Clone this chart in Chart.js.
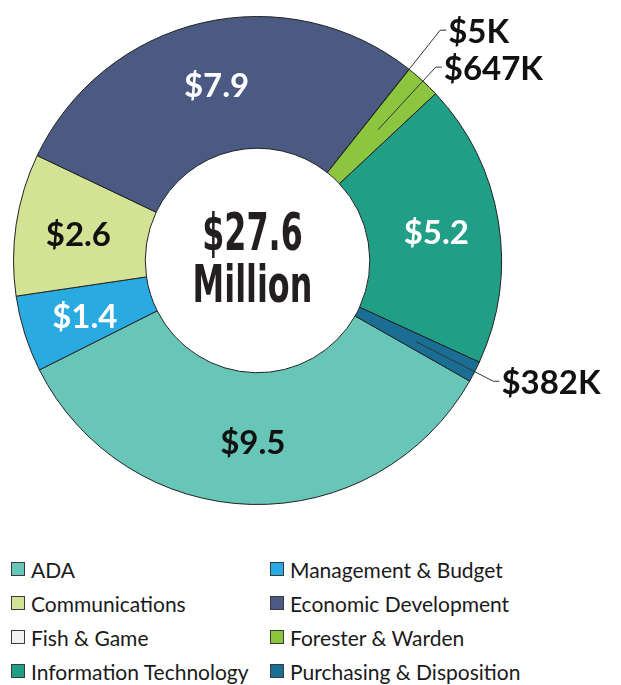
<!DOCTYPE html>
<html>
<head>
<meta charset="utf-8">
<script src="https://cdn.jsdelivr.net/npm/chart.js@4/dist/chart.umd.min.js"></script>
<style>
  html, body { margin: 0; padding: 0; background: #fff; }
  #wrap { position: relative; width: 621px; height: 685px; overflow: hidden; }
  #c { position: absolute; left: 0; top: 0; }
  #legend { position: absolute; left: 0; top: 552px; width: 621px; }
  .item { position: absolute; height: 34px; display: flex; align-items: center;
          font-family: Lato, "Open Sans", sans-serif; font-size: 21px; color: #1a1a1a; white-space: nowrap; }
  .box { width: 12px; height: 12px; border: 1px solid #3a3a3a; margin-right: 6px; box-sizing: content-box; }
</style>
</head>
<body>
<div id="wrap">
  <canvas id="c" width="621" height="530"></canvas>
  <div id="legend"></div>
</div>
<script>
// ---- data ----
const categories = ['ADA', 'Management & Budget', 'Communications', 'Economic Development',
                    'Fish & Game', 'Forester & Warden', 'Information Technology', 'Purchasing & Disposition'];
const values = [9.5, 1.4, 2.6, 7.9, 0.005, 0.647, 5.2, 0.382];   // $ millions
const valueLabels = ['$9.5', '$1.4', '$2.6', '$7.9', '$5K', '$647K', '$5.2', '$382K'];
const totalLabel = ['$27.6', 'Million'];

// ---- styles ----
const colors = ['#67C6B8', '#29ABE2', '#D3E294', '#4A5A82', '#F2F2F2', '#8CC540', '#219E86', '#1A6E93'];
const labelColors = ['#111', '#fff', '#111', '#fff', '#111', '#111', '#fff', '#111'];
// callouts for small slices: start radius ('outer' or 'mid'), elbow radius offset beyond outer edge
const callouts = { 4: { from: 'outer', elbow: 50 }, 5: { from: 'mid', elbow: 19 }, 7: { from: 'mid', elbow: 21 } };

const labelPlugin = {
  id: 'sliceLabels',
  afterDatasetsDraw(chart) {
    const ctx = chart.ctx;
    const meta = chart.getDatasetMeta(0);
    ctx.save();
    meta.data.forEach((arc, i) => {
      const p = arc.getProps(['x', 'y', 'startAngle', 'endAngle', 'innerRadius', 'outerRadius'], true);
      const mid = (p.startAngle + p.endAngle) / 2;
      const rMid = (p.innerRadius + p.outerRadius) / 2 + 3;
      ctx.font = 'bold 33px Lato, "Open Sans", sans-serif';
      ctx.textBaseline = 'middle';
      const co = callouts[i];
      if (co) {
        const r0 = co.from === 'outer' ? p.outerRadius : rMid - 3;
        const r1 = p.outerRadius + co.elbow;
        const x0 = p.x + Math.cos(mid) * r0, y0 = p.y + Math.sin(mid) * r0;
        const x1 = p.x + Math.cos(mid) * r1, y1 = p.y + Math.sin(mid) * r1;
        ctx.strokeStyle = '#333';
        ctx.lineWidth = 1;
        ctx.beginPath();
        ctx.moveTo(x0, y0); ctx.lineTo(x1, y1); ctx.lineTo(x1 + 6, y1);
        ctx.stroke();
        ctx.fillStyle = '#111';
        ctx.textAlign = 'left';
        ctx.fillText(valueLabels[i], x1 + 8, y1 + 2);
      } else {
        ctx.fillStyle = labelColors[i];
        ctx.textAlign = 'center';
        ctx.fillText(valueLabels[i], p.x + Math.cos(mid) * rMid, p.y + Math.sin(mid) * rMid + 2);
      }
    });
    // centre total
    const a = meta.data[0];
    ctx.fillStyle = '#231F20';
    ctx.textAlign = 'center';
    ctx.textBaseline = 'middle';
    ctx.save();
    ctx.translate(a.x - 5, a.y);
    ctx.scale(0.68, 1);
    ctx.font = 'bold 52px "Liberation Sans Narrow", "DejaVu Sans Condensed", sans-serif';
    ctx.fillText(totalLabel[0], 0, -24);
    ctx.fillText(totalLabel[1], 0, 28);
    ctx.restore();
    ctx.restore();
  }
};

new Chart(document.getElementById('c'), {
  type: 'doughnut',
  data: {
    labels: categories,
    datasets: [{
      data: values,
      backgroundColor: colors,
      borderColor: '#222',
      borderWidth: 1,
      hoverOffset: 0
    }]
  },
  options: {
    responsive: false,
    devicePixelRatio: 1,
    animation: false,
    rotation: 119.6,
    cutout: '46%',
    layout: { padding: { left: 13, right: 119, top: 16, bottom: 25 } },
    plugins: { legend: { display: false }, tooltip: { enabled: false } },
    events: []
  },
  plugins: [labelPlugin]
});

// ---- legend (two columns, row-major) ----
const legend = document.getElementById('legend');
categories.forEach((name, i) => {
  const el = document.createElement('div');
  el.className = 'item';
  el.style.left = (i % 2 === 0 ? 11 : 270) + 'px';
  el.style.top = (Math.floor(i / 2) * 34) + 'px';
  const box = document.createElement('span');
  box.className = 'box';
  box.style.background = colors[i];
  const t = document.createElement('span');
  t.textContent = name;
  el.appendChild(box); el.appendChild(t);
  legend.appendChild(el);
});
</script>
</body>
</html>
